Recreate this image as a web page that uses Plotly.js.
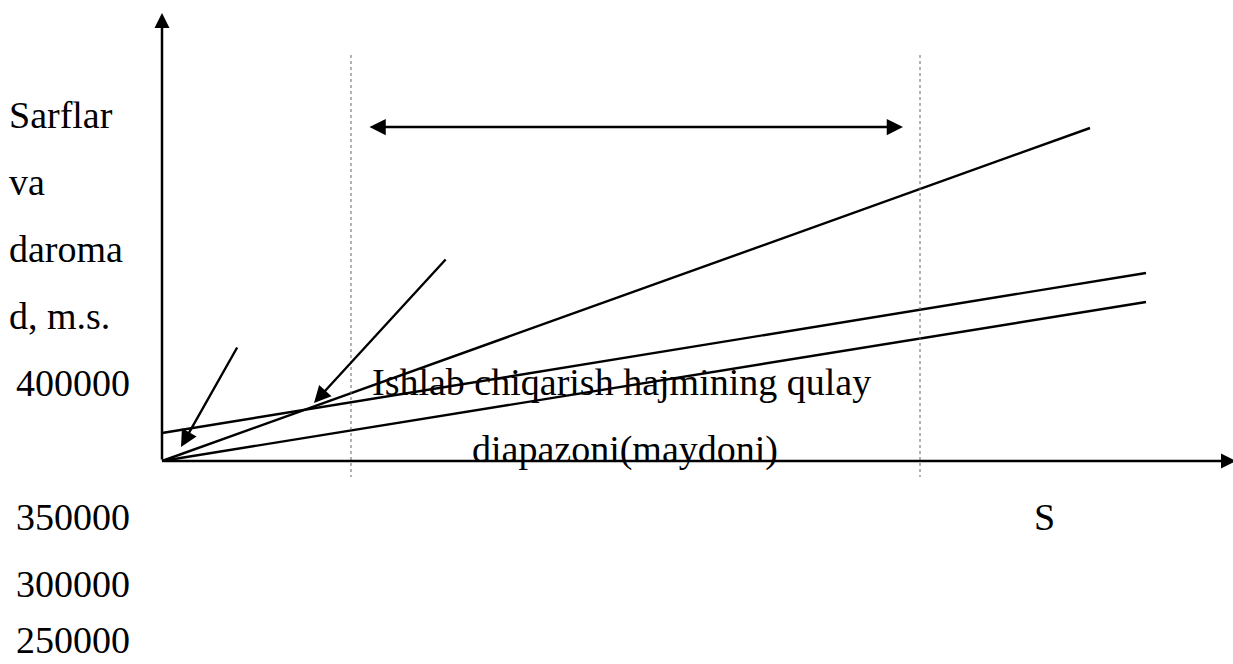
<!DOCTYPE html>
<html>
<head>
<meta charset="utf-8">
<script src="https://cdn.plot.ly/plotly-3.0.1.min.js"></script>
<style>
html,body{margin:0;padding:0;background:#fff;}
#chart{width:1233px;height:664px;}
</style>
</head>
<body>
<div id="chart"></div>
<script>
// ---- data (conceptual units: volume on x, money on y) ----
const revenueVolume = [0, 92.8];
const revenue = [0, 33.3];
const costVolume = [0, 98.4];
const totalCost = [2.8, 18.8];
const variableCost = [0, 15.9];
const rangeBounds = [18.9, 75.8];
const yLabelWords = ['Sarflar', 'va', 'daroma', 'd, m.s.'];
const yTickLabels = ['400000', '350000', '300000', '250000'];
const rangeTextLines = ['Ishlab chiqarish hajmining qulay', 'diapazoni(maydoni)'];
const xAxisLabel = 'S';

// ---- layout positions (style, not data) ----
const FONT = {family: 'Liberation Serif', size: 38, color: '#000'};
const wordY = [34.65, 27.95, 21.25, 14.55];
const tickY = [7.8, -5.6, -12.3, -17.9];
const rangeTextPos = [[45.95, 7.9], [46.3, 1.2]];

const lineStyle = {color: '#000', width: 2.4};
const traces = [
  {x: revenueVolume, y: revenue, mode: 'lines', line: lineStyle, hoverinfo: 'skip'},
  {x: costVolume, y: totalCost, mode: 'lines', line: lineStyle, hoverinfo: 'skip'},
  {x: costVolume, y: variableCost, mode: 'lines', line: lineStyle, hoverinfo: 'skip'}
];
rangeBounds.forEach(b => {
  traces.push({x: [b, b], y: [40.6, -1.6], mode: 'lines',
    line: {color: '#666', width: 1, dash: 'dot'}, hoverinfo: 'skip'});
});

function arrow(x, y, ax, ay, w, size, side) {
  return {x: x, y: y, ax: ax, ay: ay, xref: 'x', yref: 'y', axref: 'x', ayref: 'y',
    text: '', showarrow: true, arrowhead: 2, arrowsize: size, arrowwidth: w,
    arrowcolor: '#000', arrowside: side || 'end', standoff: 0, startstandoff: 0,
    font: {size: 1}};
}

const annotations = [
  // axes
  arrow(0, 44.8, 0, 0, 2.5, 1.2),
  arrow(107.4, 0, 0, 0, 2.5, 1.2),
  // range double arrow
  arrow(74.1, 33.4, 20.6, 33.4, 2.5, 1.3, 'end+start'),
  // pointer arrows
  arrow(1.9, 1.4, 7.6, 11.5, 2.4, 1.4),
  arrow(15.2, 5.8, 28.5, 20.3, 2.4, 1.4)
];

yLabelWords.forEach((t, i) => annotations.push({
  x: -15.5, y: wordY[i], xref: 'x', yref: 'y', text: t, showarrow: false,
  xanchor: 'left', yanchor: 'middle', font: FONT}));
yTickLabels.forEach((t, i) => annotations.push({
  x: -14.8, y: tickY[i], xref: 'x', yref: 'y', text: t, showarrow: false,
  xanchor: 'left', yanchor: 'middle', font: FONT}));
rangeTextLines.forEach((t, i) => annotations.push({
  x: rangeTextPos[i][0], y: rangeTextPos[i][1], xref: 'x', yref: 'y', text: t,
  showarrow: false, xanchor: 'center', yanchor: 'middle', font: FONT}));
annotations.push({x: 88.2, y: -5.6, xref: 'x', yref: 'y', text: xAxisLabel,
  showarrow: false, xanchor: 'center', yanchor: 'middle', font: FONT});

const layout = {
  width: 1233, height: 664,
  margin: {l: 0, r: 0, t: 0, b: 0, pad: 0},
  paper_bgcolor: '#fff', plot_bgcolor: '#fff',
  showlegend: false,
  xaxis: {range: [-16.2, 107.1], visible: false, fixedrange: true},
  yaxis: {range: [-20.3, 46.1], visible: false, fixedrange: true},
  annotations: annotations
};

Plotly.newPlot('chart', traces, layout, {displayModeBar: false, staticPlot: true});
</script>
</body>
</html>
